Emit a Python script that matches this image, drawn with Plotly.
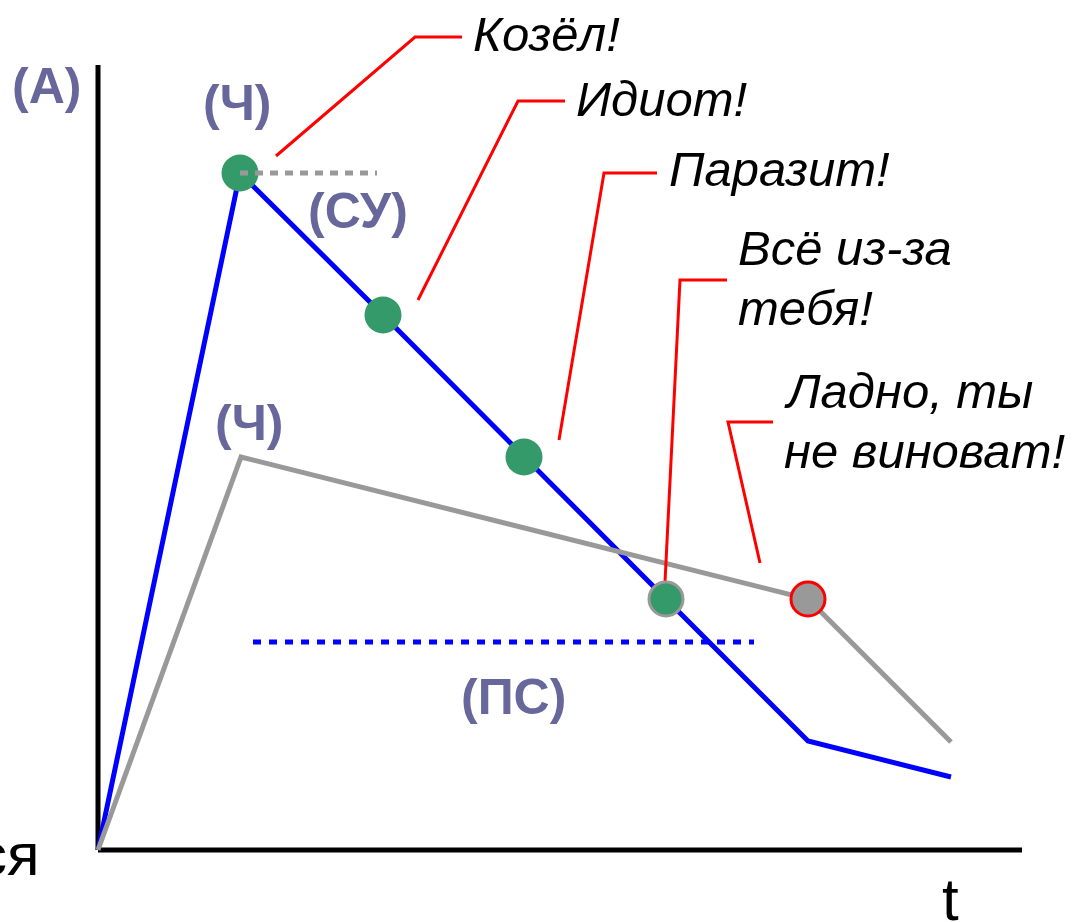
import plotly.graph_objects as go

# ---- data (pixel-like units: t to the right of origin, level above origin) ----
t_blue = [0, 142, 285, 426, 568, 710, 853]
a_blue = [0, 677, 535, 393, 251, 109, 73]

t_gray = [0, 143, 710, 853]
a_gray = [0, 393, 251, 108]

t_green = [142, 285, 426, 568]
a_green = [677, 535, 393, 251]

t_grey_pt = [710]
a_grey_pt = [251]

su_t = [142, 279]
su_a = [677, 677]

ps_t = [155, 656]
ps_a = [208, 208]

axis_v_t = [0, 0]
axis_v_a = [0, 785]
axis_h_t = [0, 924]
axis_h_a = [0, 0]

callout_texts = ["Козёл!", "Идиот!", "Паразит!", "Всё из-за", "тебя!", "Ладно, ты", "не виноват!"]
callout_text_t = [373, 476, 569, 638, 638, 684, 684]
callout_text_a = [816, 751, 681, 602, 542, 459, 399]

callout_lines = [
    ([178, 317, 364], [694, 813, 813]),
    ([320, 420, 467], [550, 749, 749]),
    ([461, 506, 559], [410, 677, 677]),
    ([567, 582, 629], [268, 570, 570]),
    ([662, 630, 675], [287, 428, 428]),
]

labels = ["(А)", "(Ч)", "(СУ)", "(Ч)", "(ПС)"]
label_t = [-52, 139, 260, 151, 415]
label_a = [764, 747, 639, 427, 153]

LABEL_COLOR = "#67679c"
FONT = "Liberation Sans, Arial, sans-serif"

fig = go.Figure()

# axes
fig.add_trace(go.Scatter(x=axis_v_t, y=axis_v_a, mode="lines",
                         line=dict(color="black", width=5), hoverinfo="skip"))
fig.add_trace(go.Scatter(x=axis_h_t, y=axis_h_a, mode="lines",
                         line=dict(color="black", width=5), hoverinfo="skip"))

# blue curve
fig.add_trace(go.Scatter(x=t_blue, y=a_blue, mode="lines",
                         line=dict(color="#0000ff", width=5), hoverinfo="skip"))
# gray curve
fig.add_trace(go.Scatter(x=t_gray, y=a_gray, mode="lines",
                         line=dict(color="#999999", width=5), hoverinfo="skip"))

# blue dotted (ПС)
fig.add_trace(go.Scatter(x=ps_t, y=ps_a, mode="lines",
                         line=dict(color="#0000ff", width=5, dash="8px,8px"), hoverinfo="skip"))

# red callout lines
for xs, ys in callout_lines:
    fig.add_trace(go.Scatter(x=xs, y=ys, mode="lines",
                             line=dict(color="#ff0000", width=3), hoverinfo="skip"))

# green markers
fig.add_trace(go.Scatter(x=t_green[:3], y=a_green[:3], mode="markers",
                         marker=dict(size=37, color="#359a69", line=dict(width=0)),
                         hoverinfo="skip"))
fig.add_trace(go.Scatter(x=t_green[3:], y=a_green[3:], mode="markers",
                         marker=dict(size=34, color="#359a69", line=dict(width=3, color="#999999")),
                         hoverinfo="skip"))
# gray marker with red border
fig.add_trace(go.Scatter(x=t_grey_pt, y=a_grey_pt, mode="markers",
                         marker=dict(size=34, color="#999999", line=dict(width=3, color="#ff0000")),
                         hoverinfo="skip"))

# gray dashed (СУ) level, drawn over first marker
fig.add_trace(go.Scatter(x=su_t, y=su_a, mode="lines",
                         line=dict(color="#999999", width=5, dash="8px,7px"), hoverinfo="skip"))

annotations = []
for txt, x, y in zip(callout_texts, callout_text_t, callout_text_a):
    annotations.append(dict(x=x, y=y, xref="x", yref="y", text="<i>" + txt + "</i>",
                            showarrow=False, xanchor="left", yanchor="middle",
                            font=dict(family=FONT, size=49, color="black")))
for txt, x, y in zip(labels, label_t, label_a):
    annotations.append(dict(x=x, y=y, xref="x", yref="y", text="<b>" + txt + "</b>",
                            showarrow=False, xanchor="center", yanchor="middle",
                            font=dict(family=FONT, size=50, color=LABEL_COLOR)))
annotations.append(dict(x=-56, y=-4, xref="x", yref="y", text="ся", showarrow=False,
                        xanchor="right", yanchor="middle",
                        font=dict(family=FONT, size=60, color="black")))
annotations.append(dict(x=852, y=-49, xref="x", yref="y", text="t", showarrow=False,
                        xanchor="center", yanchor="middle",
                        font=dict(family=FONT, size=60, color="black")))

fig.update_layout(
    width=1079, height=922, autosize=False,
    margin=dict(l=0, r=0, t=0, b=0),
    paper_bgcolor="white", plot_bgcolor="white",
    showlegend=False,
    xaxis=dict(range=[-98, 981], visible=False, fixedrange=True),
    yaxis=dict(range=[-72, 850], visible=False, fixedrange=True),
    annotations=annotations,
)

fig.write_html("out.html", config={"displayModeBar": False},
               post_script="document.body.style.margin='0';document.body.style.overflow='hidden';")
